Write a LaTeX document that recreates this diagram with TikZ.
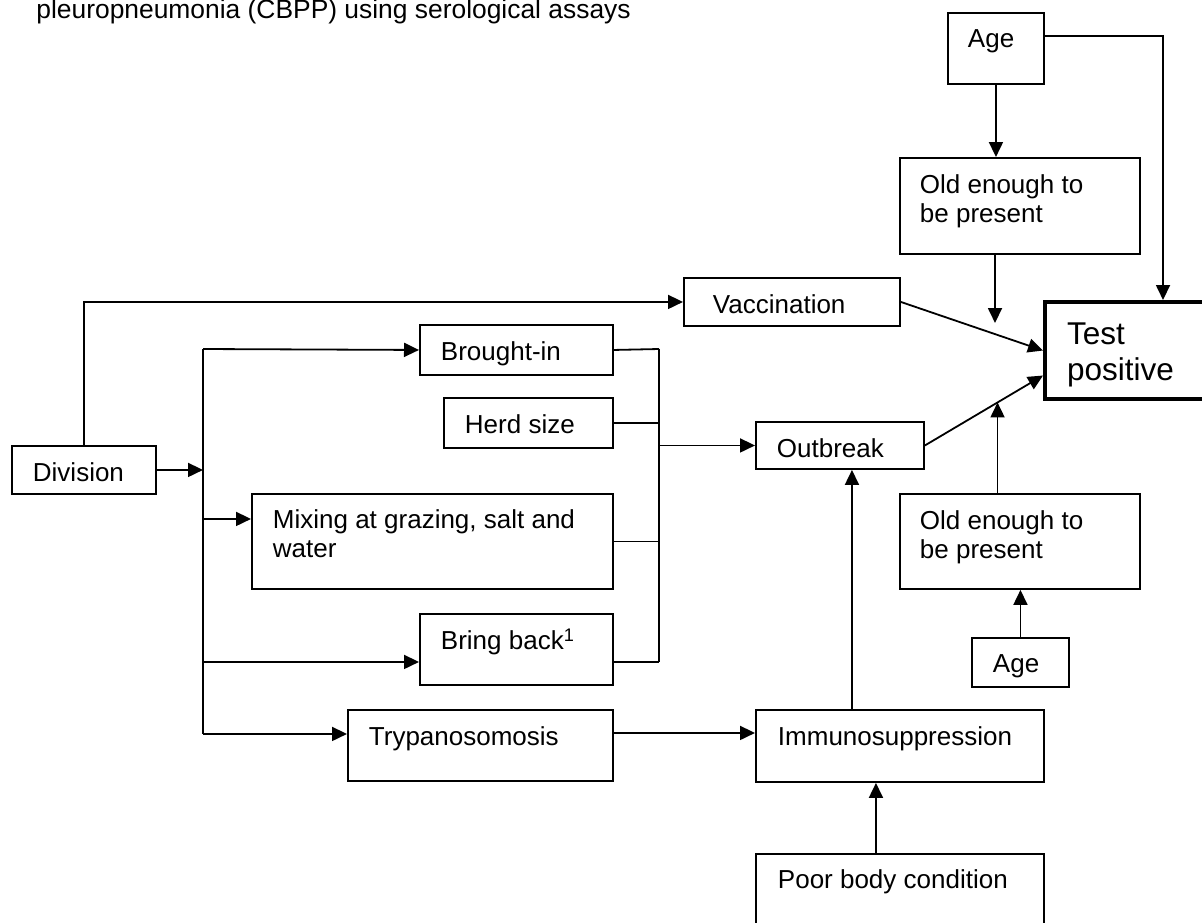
\documentclass[tikz,border=0pt]{standalone}
\usepackage{fontspec}
\setmainfont{Liberation Sans}
\usetikzlibrary{arrows.meta}
% #1 width px, #2 height px, #3 left pad, #4 first baseline offset, #5 text
\newcommand\boxtext[5]{\parbox[t][\dimexpr#2pt/2\relax][t]{\dimexpr#1pt/2\relax}{\vspace*{\dimexpr#4-\ht\strutbox\relax}\raggedright\leftskip=#3\relax\strut#5}}
\begin{document}
\begin{tikzpicture}[x=0.5pt,y=-0.5pt,
  every node/.style={font=\fontsize{13pt}{14.5pt}\selectfont},
  box/.style={draw, line width=0.95pt, inner sep=0pt, anchor=north west},
  bigbox/.style={box, line width=2pt, font=\fontsize{15.75pt}{18pt}\selectfont},
  conn/.style={line width=0.9pt},
  arr/.style={conn, -{Triangle[length=7.5pt,width=7pt]}}]
\useasboundingbox (0,0) rectangle (1202,922);
\clip (0,0) rectangle (1202,922);

\node[anchor=base west, inner sep=0pt, font=\fontsize{13.2pt}{15pt}\selectfont] (title) at (36,18) {pleuropneumonia (CBPP) using serological assays};

\node[box] (ageT) at (947,12) {\boxtext{96}{71}{10pt}{17.5pt}{Age}};
\node[box] (oldT) at (899,157) {\boxtext{240}{96}{10pt}{18pt}{Old enough to\\be present}};
\node[bigbox] (tp) at (1043,300) {\boxtext{180}{97}{11pt}{21pt}{Test\\positive}};
\node[box] (vacc) at (683,277) {\boxtext{216}{48}{14.5pt}{18pt}{Vaccination}};
\node[box] (brought) at (419,324) {\boxtext{193}{50}{10.5pt}{18pt}{Brought-in}};
\node[box] (herd) at (443,397) {\boxtext{169}{50}{10.5pt}{18pt}{Herd size}};
\node[box] (div) at (11,445) {\boxtext{144}{48}{10.5pt}{18pt}{Division}};
\node[box] (mix) at (251,493) {\boxtext{361}{95}{10.5pt}{17.5pt}{Mixing at grazing, salt and\\water}};
\node[box] (bring) at (419,613) {\boxtext{193}{71}{10.5pt}{17.5pt}{Bring back\textsuperscript{1}}};
\node[box] (trypa) at (347,709) {\boxtext{265}{71}{10.5pt}{18pt}{Trypanosomosis}};
\node[box] (outb) at (755,421) {\boxtext{168}{47}{10.5pt}{18pt}{Outbreak}};
\node[box] (oldL) at (899,493) {\boxtext{240}{95}{10pt}{18pt}{Old enough to\\be present}};
\node[box] (ageL) at (971,637) {\boxtext{97}{49}{10.5pt}{17.5pt}{Age}};
\node[box] (immuno) at (755,709) {\boxtext{288}{72}{11pt}{18pt}{Immunosuppression}};
\node[box] (poor) at (755,853) {\boxtext{288}{90}{11pt}{17.5pt}{Poor body condition}};

% top Age
\draw[arr] ([yshift=-12pt]ageT.north east) -| ([xshift=60pt]tp.north west);
\draw[arr] (ageT.south) -- (ageT.south |- oldT.north);
\coordinate (oldTend) at (995,323);
\draw[arr] (oldT.south -| oldTend) -- (oldTend);

% into test positive
\draw[arr] (vacc.east) -- (tp.west);
\draw[arr] (outb.east) -- coordinate[pos=0.615] (meet) ([yshift=-12.5pt]tp.west);
\draw[arr] (oldL.north -| meet) -- (meet);
\draw[arr] (ageL.north) -- (ageL.north |- oldL.south);

% division
\coordinate (trunkTop) at (203,349);
\coordinate (mixIn) at ([yshift=11.25pt]mix.west);
\coordinate (bringIn) at ([yshift=-6.25pt]bring.west);
\coordinate (trypaIn) at ([yshift=5.75pt]trypa.west);
\draw[arr] (div.north) |- (vacc.west);
\draw[arr] (div.east) -- (div.east -| trunkTop);
\draw[conn] (trunkTop) -- (trypaIn -| trunkTop);
\draw[arr] (trunkTop) -- (brought.west);
\draw[arr] (mixIn -| trunkTop) -- (mixIn);
\draw[arr] (bringIn -| trunkTop) -- (bringIn);
\draw[arr] (trypaIn -| trunkTop) -- (trypaIn);

% bracket to outbreak
\coordinate (brTop) at (659,349);
\coordinate (bringOut) at ([yshift=-6.25pt]bring.east);
\draw[conn] (brought.east) -- (brTop);
\draw[conn] (herd.east) -- (herd.east -| brTop);
\draw[conn] (mix.east) -- (mix.east -| brTop);
\draw[conn] (bringOut) -- (bringOut -| brTop);
\draw[conn] (brTop) -- (bringOut -| brTop);
\draw[arr] (outb.west -| brTop) -- (outb.west);

% immunosuppression
\coordinate (immIn) at ([yshift=6.5pt]immuno.west);
\draw[arr] (immIn -| trypa.east) -- (immIn);
\coordinate (obIn) at ([xshift=6pt]outb.south);
\draw[arr] (immuno.north -| obIn) -- (obIn);
\coordinate (pIn) at ([xshift=-12pt]immuno.south);
\draw[arr] (poor.north -| pIn) -- (pIn);
\end{tikzpicture}
\end{document}
